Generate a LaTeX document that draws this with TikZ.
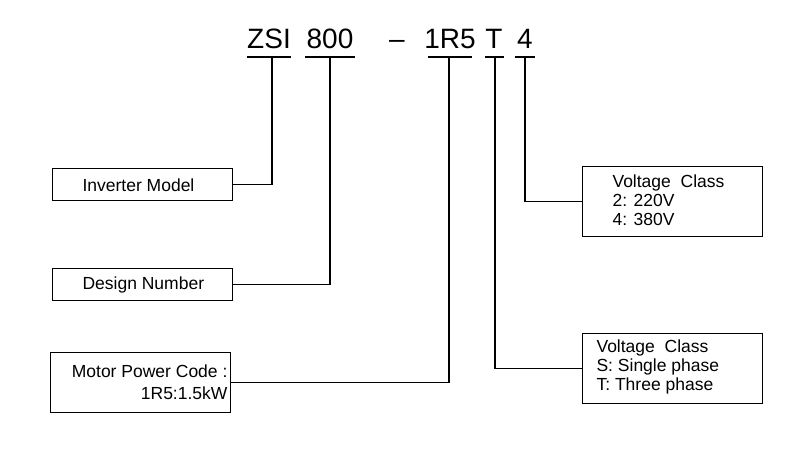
\documentclass[tikz,border=0pt]{standalone}
\usepackage{fontspec}
\setmainfont{Liberation Sans}
\begin{document}
\begin{tikzpicture}[x=1pt,y=-1pt,line width=1.1pt,
  code/.style={font=\fontsize{28}{28}\selectfont,anchor=base,inner sep=0pt},
  box/.style={draw,line width=0.8pt,anchor=north west,inner sep=0pt},
  lbl/.style={font=\fontsize{17.5}{19}\selectfont,align=left,anchor=west,inner sep=0pt}]
\useasboundingbox (0,0) rectangle (800,451);
\node[code] (zsi) at (269,48) {ZSI};
\node[code] (n800) at (330,48) {800};
\node[code] (dash) at (397,48) {--};
\node[code] (r15) at (450,48) {1R5};
\node[code] (t) at (494,48) {T};
\node[code] (four) at (525,48) {4};
\coordinate (u1) at (272,57); \draw (247,57) -- (291,57);
\coordinate (u2) at (330,57); \draw (305,57) -- (355,57);
\coordinate (u3) at (449,57); \draw (428,57) -- (472,57);
\coordinate (u4) at (495,57); \draw (485,57) -- (504,57);
\coordinate (u5) at (525,57); \draw (515,57) -- (535,57);
\node[box,minimum width=180,minimum height=32] (b1) at (52,168) {};
\node[lbl] (t1) at (82,185) {Inverter Model};
\node[box,minimum width=180,minimum height=32] (b2) at (52,268) {};
\node[lbl] (t2) at (82,285) {Design Number};
\node[box,minimum width=180,minimum height=60] (b3) at (50,352) {};
\node[lbl,align=right,anchor=east,font=\fontsize{17.5}{22}\selectfont] (t3) at (228,382) {Motor Power Code :\\1R5:1.5kW};
\node[box,minimum width=180,minimum height=70] (b4) at (582,166) {};
\node[lbl] (t4) at (612,200) {Voltage\ \ Class\\2: 220V\\4: 380V};
\node[box,minimum width=180,minimum height=70] (b5) at (582,333) {};
\node[lbl] (t5) at (596,367) {Voltage\ \ Class\\S: Single phase\\T: Three phase};
\draw (b1.east) -| (u1);
\draw (b2.east) -| (u2);
\draw (b3.east) -| (u3);
\draw (u5) |- (b4.west);
\draw (u4) |- (b5.west);
\end{tikzpicture}
\end{document}
